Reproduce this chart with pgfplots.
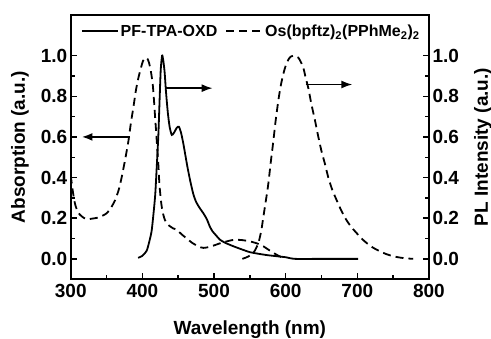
\documentclass[border=0pt]{standalone}
\usepackage{fontspec}
\setmainfont{Liberation Sans}
\usepackage{pgfplots}
\pgfplotsset{compat=1.18}
\usetikzlibrary{arrows.meta}
\begin{document}
\begin{tikzpicture}
\pgfplotsset{
  common/.style={
    scale only axis, width=358pt, height=264pt,
    xmin=300, xmax=800, ymin=-0.1, ymax=1.2,
    xtick={300,400,500,600,700,800}, minor x tick num=1,
    ytick={0,0.2,0.4,0.6,0.8,1.0}, minor y tick num=1,
    tick align=inside, major tick length=6pt, minor tick length=4pt,
    every tick/.style={black, line width=1.5pt},
    axis line style={line width=2pt},
    xtick pos=bottom,
    /pgf/number format/assume math mode=true,
    tick label style={font=\bfseries\fontsize{19}{19}\selectfont},
    yticklabel style={/pgf/number format/.cd, fixed, fixed zerofill, precision=1},
    xticklabel style={yshift=-2pt, /pgf/number format/.cd, fixed, 1000 sep={}},
  }
}
\begin{axis}[common,
  ytick pos=both, yticklabel pos=left,
  legend style={at={(0.025,0.975)}, anchor=north west, draw=none, fill=none,
    legend columns=2, font=\bfseries\fontsize{16}{16}\selectfont,
    /tikz/every even column/.append style={column sep=6pt},
    legend cell align=left, inner sep=1pt},
  legend image code/.code={\draw[#1] (0pt,0pt) -- (36pt,0pt);},
]
\addplot[black, line width=1.8pt, smooth, tension=0.4] coordinates {
(394,0.005) (400,0.015) (406,0.04) (410,0.09) (413,0.14) (416,0.24) (418,0.32)
(420,0.45) (422.3,0.61) (424,0.78) (425.6,0.93) (427.5,1.0) (429,0.98) (431,0.92)
(433,0.82) (435.5,0.72) (438,0.65) (441,0.61) (444,0.62) (448,0.645) (451,0.65)
(454,0.62) (457,0.57) (460,0.51) (463,0.45) (467,0.38) (471,0.32) (475,0.28)
(480,0.25) (485,0.225) (490,0.195) (494,0.16) (498,0.135) (503,0.115) (508,0.095)
(515,0.08) (527,0.062) (540,0.045) (550,0.033) (562,0.025) (575,0.018) (590,0.012)
(600,0.008) (613,0.0) (650,0.0) (701,0.0)
};
\addlegendentry{PF-TPA-OXD}
\addplot[black, line width=1.8pt, dash pattern=on 8pt off 5pt, smooth, tension=0.4] coordinates {
(300,0.41) (303,0.33) (306,0.27) (310,0.23) (315,0.21) (322,0.195) (330,0.198)
(340,0.205) (350,0.224) (356,0.25) (362,0.29) (367,0.34) (371,0.40) (376,0.49)
(380.5,0.58) (384,0.67) (387.4,0.745) (391,0.83) (394.4,0.89) (398,0.94) (401,0.975)
(404.7,0.99) (407,0.985) (409.3,0.965) (412,0.92) (414.4,0.86) (416,0.79) (417.7,0.70)
(419.5,0.61) (421,0.53) (422.5,0.45) (423.7,0.37) (425.5,0.30) (427,0.257) (429,0.22)
(431.6,0.19) (435,0.17) (438.6,0.16) (443,0.15) (448,0.143) (455,0.12) (462,0.10)
(469,0.08) (476,0.065) (481,0.057) (485,0.054) (490,0.056) (499,0.065) (508,0.076)
(517.7,0.086) (525,0.092) (531.6,0.094) (540,0.092) (550,0.086) (560,0.076)
(568.8,0.062) (576,0.045) (582.8,0.03) (590,0.015) (596.7,0.005)
};
\addlegendentry{Os(bpftz)\textsubscript{2}(PPhMe\textsubscript{2})\textsubscript{2}}
\addplot[black, line width=1.8pt, dash pattern=on 8pt off 5pt, smooth, tension=0.4, forget plot] coordinates {
(539.5,0.0) (545,0.007) (550,0.016) (556,0.035) (561.9,0.078) (566,0.14) (569,0.21)
(572.5,0.29) (575.8,0.37) (579,0.47) (582.8,0.58) (586,0.68) (589.8,0.78) (593,0.85)
(596.7,0.91) (600,0.95) (603.7,0.98) (607,0.995) (610.7,1.0) (614,0.998) (617.7,0.99)
(621,0.97) (624.7,0.94) (628,0.89) (631.6,0.84) (636,0.76) (641,0.68) (645,0.61)
(650,0.53) (655,0.465) (659.5,0.40) (665,0.34) (671,0.29) (678,0.235) (685,0.19)
(692,0.155) (699,0.127) (706,0.10) (713,0.078) (722,0.055) (731.6,0.037) (740,0.024)
(750,0.013) (760,0.006) (770,0.002) (778,0.0)
};
\draw[line width=2pt, -{Latex[length=11pt,width=8pt]}] (axis cs:383,0.6) -- (axis cs:315,0.6);
\draw[line width=1.5pt, -{Latex[length=11pt,width=8pt]}] (axis cs:431.5,0.84) -- (axis cs:498,0.84);
\draw[line width=1.5pt, -{Latex[length=11pt,width=8pt]}] (axis cs:628,0.858) -- (axis cs:693,0.858);
\coordinate (sw) at (rel axis cs:0,0);
\coordinate (ne) at (rel axis cs:1,1);
\coordinate (lm) at (rel axis cs:0,0.5);
\coordinate (rm) at (rel axis cs:1,0.5);
\coordinate (bm) at (rel axis cs:0.5,0);
\end{axis}
\begin{axis}[common,
  axis x line=none, axis y line*=right,
  ytick pos=right, yticklabel pos=right,
]
\addplot[draw=none] coordinates {(300,0) (800,0)};
\end{axis}
\node[rotate=90, font=\bfseries\fontsize{19}{19}\selectfont] at ([xshift=-50.7pt]lm) {Absorption (a.u.)};
\node[rotate=90, font=\bfseries\fontsize{19}{19}\selectfont] at ([xshift=54pt]rm) {PL Intensity (a.u.)};
\node[anchor=base, font=\bfseries\fontsize{19}{19}\selectfont] at ([yshift=-55.5pt]bm) {Wavelength (nm)};
\pgfresetboundingbox
\path ([shift={(-70.7pt,-59pt)}]sw) rectangle ([shift={(62pt,15pt)}]ne);
\end{tikzpicture}
\end{document}
